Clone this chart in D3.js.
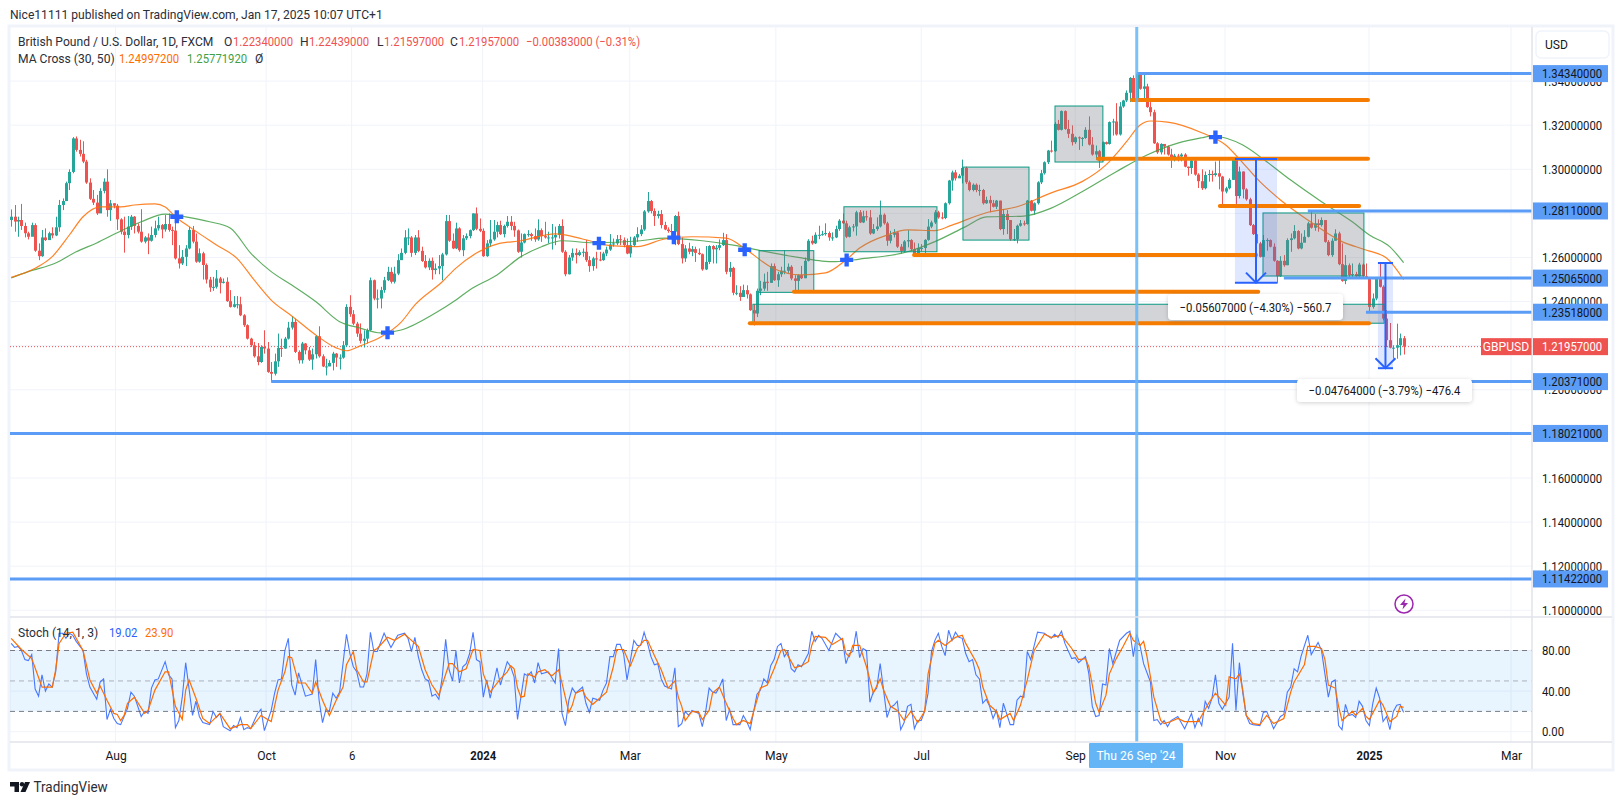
<!DOCTYPE html>
<html><head><meta charset="utf-8">
<script src="https://cdn.jsdelivr.net/npm/d3@7"></script>
<style>
html,body{margin:0;padding:0;background:#fff}
svg{display:block;font-family:Roboto,sans-serif}
</style></head><body><svg id="c" width="1622" height="805"></svg>
<script>
// ---- data: prices in pips (1/10000), bars are daily candles ----
const firstOpen = 12770;
const closes = [12785,12763,12770,12743,12710,12694,12747,12631,12606,12691,12679,12710,12700,12737,12838,12856,12937,12988,13140,13088,13070,13035,12940,12866,12849,12800,12902,12944,12815,12846,12835,12773,12717,12702,12740,12785,12743,12717,12672,12691,12676,12702,12732,12747,12727,12752,12725,12722,12596,12573,12603,12641,12725,12672,12581,12619,12566,12500,12464,12467,12505,12485,12490,12402,12376,12388,12388,12338,12293,12232,12202,12152,12126,12194,12187,12081,12073,12129,12190,12187,12232,12282,12308,12172,12134,12210,12179,12137,12161,12243,12152,12106,12106,12122,12164,12146,12146,12202,12376,12343,12300,12255,12222,12232,12270,12497,12414,12414,12452,12497,12535,12490,12527,12588,
12621,12691,12691,12621,12691,12630,12584,12555,12585,12543,12550,12561,12614,12765,12676,12641,12732,12633,12687,12697,12724,12800,12730,12721,12606,12664,12682,12717,12747,12706,12743,12762,12743,12723,12626,12668,12706,12706,12697,12682,12724,12697,12691,12691,12691,12702,12743,12626,12524,12600,12621,12611,12624,12626,12588,12561,12596,12591,12588,12618,12636,12659,12664,12683,12679,12656,12618,12656,12691,12706,12727,12809,12856,12811,12788,12797,12747,12727,12720,12717,12788,12661,12596,12641,12626,12638,12621,12615,12546,12580,12652,12637,12644,12656,12679,12535,12553,12440,12440,12421,12452,12433,12361,12346,12449,12459,12490,12485,12561,12497,12524,12540,12540,12558,12505,12494,12520,
12506,12585,12676,12664,12703,12703,12706,12711,12691,12691,12729,12767,12755,12694,12737,12741,12805,12759,12787,12782,12709,12729,12741,12794,12755,12676,12703,12714,12649,12630,12673,12679,12638,12612,12643,12643,12680,12740,12759,12805,12782,12779,12846,12949,12986,12959,12971,13006,12941,12906,12930,12906,12906,12846,12861,12846,12830,12858,12729,12797,12770,12683,12683,12744,12755,12752,12858,12812,12846,12941,12982,13032,13085,13082,13206,13179,13264,13183,13161,13123,13145,13142,13142,13179,13112,13067,13082,13039,13123,13115,13214,13217,13158,13285,13312,13347,13414,13315,13433,13365,13376,13282,13259,13118,13077,13115,13103,13067,13055,13062,13058,13067,13012,13006,13040,12976,12946,
12914,12974,12979,12974,12982,12967,12899,12914,12952,13043,12879,12990,12909,12864,12747,12706,12664,12603,12679,12679,12649,12585,12515,12585,12565,12679,12687,12720,12641,12667,12694,12755,12735,12755,12747,12770,12671,12611,12676,12709,12570,12494,12565,12520,12525,12515,12568,12515,12509,12376,12414,12509,12467,12323,12225,12191,12191,12202,12234,12196];
const highs = [12818,12838,12785,12843,12758,12717,12758,12755,12664,12725,12732,12717,12737,12785,12861,12868,12944,13000,13146,13149,13134,13127,13043,12959,12906,12884,12914,12959,13000,12861,12846,12843,12778,12785,12788,12793,12788,12755,12819,12697,12709,12740,12767,12785,12752,12793,12800,12740,12770,12656,12634,12656,12740,12743,12709,12641,12626,12573,12512,12512,12543,12512,12505,12510,12452,12425,12425,12422,12343,12297,12236,12217,12212,12202,12270,12217,12126,12164,12255,12232,12240,12308,12334,12323,12179,12217,12212,12194,12187,12248,12288,12161,12141,12134,12172,12167,12161,12221,12388,12429,12361,12308,12301,12270,12278,12509,12500,12455,12467,12512,12558,12555,12558,12615,
12641,12724,12732,12697,12702,12724,12649,12611,12596,12600,12573,12611,12621,12793,12793,12709,12758,12737,12702,12709,12727,12800,12827,12777,12732,12679,12770,12770,12762,12767,12749,12788,12788,12762,12727,12709,12709,12724,12712,12732,12773,12732,12762,12717,12752,12740,12752,12773,12633,12611,12641,12641,12633,12641,12679,12606,12603,12626,12626,12626,12649,12706,12686,12702,12702,12691,12686,12694,12697,12737,12747,12815,12897,12861,12823,12812,12815,12762,12737,12752,12793,12808,12691,12656,12667,12652,12649,12641,12618,12652,12656,12656,12656,12682,12712,12706,12580,12558,12474,12470,12477,12474,12437,12388,12459,12494,12527,12535,12573,12573,12535,12558,12633,12573,12565,12520,12524,
12562,12600,12683,12699,12714,12744,12721,12755,12718,12714,12744,12774,12800,12767,12744,12752,12812,12815,12812,12812,12815,12752,12782,12858,12800,12762,12721,12729,12718,12661,12679,12724,12683,12668,12664,12661,12683,12774,12767,12815,12812,12805,12850,12952,12994,12997,12979,13044,13012,12949,12936,12936,12930,12911,12876,12880,12861,12861,12858,12820,12815,12770,12729,12749,12770,12767,12861,12861,12850,12946,12997,13036,13088,13130,13214,13224,13267,13267,13224,13199,13149,13149,13146,13191,13240,13146,13108,13088,13126,13126,13217,13229,13300,13305,13315,13358,13418,13426,13434,13430,13430,13388,13305,13270,13123,13118,13112,13108,13093,13070,13070,13073,13073,13012,13047,13043,12982,
13000,12990,12997,12994,13035,13046,12970,12921,12959,13046,13050,13012,12990,12914,12871,12752,12709,12671,12702,12687,12682,12664,12588,12606,12611,12687,12709,12747,12724,12709,12724,12762,12812,12797,12773,12782,12752,12679,12687,12728,12717,12664,12611,12573,12573,12535,12576,12573,12573,12512,12437,12512,12576,12474,12361,12303,12202,12300,12255,12244];
const lows = [12740,12717,12694,12725,12691,12682,12702,12626,12588,12603,12675,12682,12687,12697,12717,12815,12856,12906,12982,13080,13058,13028,12934,12861,12838,12793,12815,12891,12785,12766,12823,12725,12705,12622,12687,12725,12709,12709,12667,12664,12615,12672,12691,12722,12687,12717,12717,12656,12591,12550,12566,12561,12637,12664,12576,12576,12500,12482,12444,12449,12459,12437,12482,12399,12373,12373,12369,12334,12285,12228,12194,12146,12111,12122,12164,12077,12037,12065,12104,12149,12186,12228,12273,12167,12119,12119,12161,12131,12091,12142,12146,12103,12065,12107,12088,12104,12092,12141,12194,12331,12293,12240,12210,12192,12210,12267,12406,12369,12369,12440,12493,12482,12482,12520,
12591,12615,12656,12603,12611,12624,12580,12550,12543,12500,12524,12524,12497,12609,12671,12638,12638,12626,12606,12679,12687,12720,12724,12715,12603,12603,12649,12676,12691,12702,12691,12736,12724,12694,12621,12600,12664,12694,12676,12671,12676,12671,12686,12664,12636,12656,12686,12621,12515,12523,12585,12573,12606,12603,12580,12535,12540,12550,12583,12585,12606,12630,12649,12656,12656,12646,12615,12600,12649,12671,12697,12721,12803,12800,12743,12777,12732,12724,12712,12691,12656,12656,12573,12580,12615,12606,12580,12611,12540,12543,12570,12573,12573,12633,12652,12524,12512,12429,12429,12403,12421,12414,12358,12292,12330,12429,12449,12449,12485,12494,12467,12512,12524,12530,12497,12444,12440,
12502,12506,12582,12658,12661,12683,12699,12699,12676,12676,12688,12721,12752,12688,12691,12718,12699,12756,12756,12767,12703,12706,12721,12736,12749,12653,12664,12691,12643,12618,12623,12646,12630,12608,12618,12627,12615,12676,12733,12752,12776,12773,12774,12840,12903,12949,12964,12936,12933,12900,12900,12896,12880,12840,12843,12805,12827,12820,12724,12703,12706,12676,12676,12664,12740,12744,12749,12809,12794,12840,12933,12976,13024,13076,13079,13176,13176,13179,13142,13108,13115,13088,13105,13138,13108,13062,13043,13006,13036,13112,13112,13153,13153,13153,13279,13305,13305,13309,13309,13361,13315,13279,13240,13115,13070,13067,13067,13062,13006,13036,13036,13036,13009,12971,12979,12971,12915,
12906,12909,12944,12944,12967,12909,12838,12891,12909,12952,12843,12868,12868,12858,12743,12702,12646,12600,12611,12631,12646,12581,12482,12512,12558,12565,12626,12682,12637,12637,12687,12691,12731,12721,12717,12740,12667,12606,12603,12676,12565,12490,12479,12512,12512,12505,12512,12509,12505,12349,12368,12406,12464,12315,12194,12188,12141,12141,12156,12160];

const ma30Bars = [0,7,12,17,21,26,32,36,42,45,48,52,60,66,71,76,82,89,95,98,102,108,114,118,126,130,136,142,149,159,167,175,183,191,199,209,215,222,231,238,244,248,256,262,270,275,285,294,304,313,320,326,330,333,338,348,355,360,365,371,379,389,396,402,407];
const ma30 = [12510,12551,12604,12702,12785,12830,12830,12838,12843,12829,12785,12740,12657,12596,12498,12407,12335,12249,12190,12177,12199,12239,12307,12385,12490,12552,12620,12661,12676,12707,12684,12654,12649,12684,12694,12688,12634,12557,12521,12530,12589,12643,12702,12725,12722,12747,12803,12830,12893,12944,13020,13125,13201,13219,13214,13166,13110,13029,12944,12861,12770,12672,12634,12598,12500];
const ma50Bars = [0,5,13,19,25,31,38,45,51,58,64,70,76,82,89,96,102,108,114,124,130,134,142,149,155,161,170,184,191,202,212,219,231,237,241,248,262,270,279,285,296,304,313,323,332,341,348,351,360,367,374,383,392,397,403,407];
const ma50 = [12507,12536,12575,12626,12666,12712,12762,12797,12784,12762,12734,12620,12536,12475,12400,12309,12280,12258,12271,12348,12407,12453,12521,12604,12649,12676,12667,12676,12688,12676,12654,12631,12598,12584,12581,12593,12626,12672,12740,12784,12788,12824,12898,12989,13065,13119,13143,13151,13110,13034,12951,12853,12762,12702,12648,12577];

const stochKBars = [0,1,2,3,4,5,6,7,8,9,10,11,12,13,14,15,16,17,18,19,21,22,23,25,26,27,28,29,30,31,32,34,35,36,38,39,40,41,42,43,45,46,47,48,49,50,51,53,54,55,56,58,59,60,61,62,64,65,66,67,68,69,70,72,73,74,76,77,78,79,80,81,82,83,84,86,88,89,90,91,92,93,94,95,96,98,99,100,101,102,103,104,105,106,107,109,111,113,115,116,117,118,119,120,121,122,123,124,125,126,127,128,129,130,131,132,133,134,135,136,137,138,139,140,142,143,
145,146,147,148,150,151,152,153,154,155,157,159,160,161,162,163,164,165,167,168,169,170,172,173,174,175,176,177,178,179,180,182,183,184,185,186,187,188,189,190,191,193,194,195,196,197,198,199,201,202,203,204,205,206,207,208,209,210,211,213,214,215,216,218,219,220,221,222,223,224,225,226,227,228,229,230,231,233,234,235,236,237,239,241,243,244,245,246,247,248,249,250,251,252,253,254,255,256,257,258,259,260,261,262,263,264,265,266,267,268,269,270,271,272,273,274,275,276,277,278,279,280,281,282,283,284,285,286,287,288,289,
290,292,293,294,295,296,297,298,300,302,304,305,306,307,308,310,311,312,314,315,316,317,318,319,320,321,322,324,326,327,328,329,330,331,333,334,335,336,337,338,339,341,343,345,346,347,348,349,350,351,352,353,354,356,357,358,359,360,361,362,363,365,366,367,369,371,372,373,374,375,376,377,379,380,382,383,384,385,386,387,388,389,390,391,392,393,394,395,396,397,398,399,400,401,402,403,404,405,406,407];
const stochK = [87,83,84,80,71,70,76,42,35,56,40,47,44,59,97,97,92,97,95,89,80,57,44,32,49,52,12,22,13,8,7,23,39,35,15,20,18,43,51,52,69,56,52,4,11,34,68,16,30,15,9,7,20,14,18,5,1,6,4,14,2,4,3,18,22,1,21,38,51,52,80,92,46,36,58,35,37,71,31,9,22,20,38,33,39,96,77,64,59,44,44,57,98,79,79,97,83,95,97,92,79,93,74,61,52,50,35,37,32,54,91,61,50,80,48,64,67,77,98,71,69,34,51,33,63,46,
69,64,54,12,57,55,59,48,68,57,59,48,82,18,6,31,43,38,44,28,19,33,31,41,48,74,74,86,86,77,51,90,85,85,98,87,74,66,67,52,45,42,63,5,8,20,16,21,18,5,20,43,39,38,44,52,11,22,7,7,16,10,2,37,41,52,48,65,71,84,87,74,79,62,59,66,64,77,99,89,95,92,80,97,90,67,77,79,99,73,82,80,29,39,43,67,41,14,24,26,30,2,9,25,27,3,11,11,20,38,79,90,97,84,75,100,90,98,93,92,77,69,71,56,52,28,32,25,13,21,4,
28,7,7,31,35,34,79,71,98,97,92,96,93,99,87,72,73,68,74,57,25,15,16,47,46,82,67,90,97,99,74,96,84,67,49,11,12,7,11,5,11,15,3,18,4,13,6,30,23,33,56,28,22,34,87,21,68,38,16,8,7,6,19,20,3,15,17,39,44,62,59,74,95,76,88,80,57,34,49,51,6,2,27,16,17,14,30,25,11,6,28,43,33,10,15,2,20,26,27,19.02];
const stochDBars = [0,3,6,9,12,13,14,16,18,21,23,25,26,28,30,31,32,33,34,36,39,40,42,45,46,48,50,51,52,54,56,58,61,64,67,69,70,73,76,78,80,81,82,84,86,88,89,91,93,95,97,98,100,101,103,104,106,107,110,112,115,117,119,121,123,125,128,129,131,133,135,137,138,140,143,
145,146,147,148,149,150,151,153,154,156,158,160,161,163,164,165,167,168,170,171,174,176,177,179,181,183,185,186,188,190,192,194,195,196,197,199,201,202,204,205,207,209,211,212,214,216,219,221,223,225,226,228,229,231,233,234,235,238,240,243,244,245,246,248,250,252,254,255,257,259,261,263,265,267,268,270,271,273,276,278,279,282,283,284,286,288,289,
292,293,295,297,299,302,304,307,310,312,314,315,317,318,320,321,323,325,327,328,330,331,332,334,336,337,339,341,343,346,347,350,352,353,355,356,358,359,360,361,363,365,367,369,372,374,375,378,379,381,383,384,385,387,388,389,392,393,395,396,397,400,401,403,405,406,407];
const stochD = [92,81,72,44,44,61,87,97,98,80,51,38,45,31,18,17,11,16,28,34,18,21,41,59,59,25,12,41,51,33,13,8,18,3,7,7,3,16,10,41,59,74,73,48,48,38,49,31,16,31,44,66,79,61,49,49,80,82,93,90,96,90,84,61,46,36,67,67,59,62,81,80,57,39,52,
59,65,62,43,34,35,57,54,59,61,55,61,48,19,26,38,41,34,27,30,39,64,81,81,65,82,90,90,75,61,43,50,34,25,11,20,19,12,21,38,44,28,13,7,11,8,43,46,62,80,81,69,63,65,69,85,94,93,86,92,77,74,85,85,64,38,52,41,25,21,11,20,9,20,57,87,90,85,93,95,87,69,61,44,26,20,12,
18,11,26,51,80,96,93,95,82,71,72,64,28,19,36,57,72,84,97,90,85,89,74,34,11,8,10,13,10,10,10,28,38,34,26,54,52,57,41,16,8,7,16,8,13,39,49,66,84,84,82,71,46,43,25,11,20,16,23,15,12,31,26,10,15,25,23.90];

const priceTicks = [1.34,1.32,1.30,1.28,1.26,1.24,1.22,1.20,1.18,1.16,1.14,1.12,1.10];
const stochTicks = [80,40,0];
const stochBands = [80,50,20];
const timeLabels = ["Aug","Oct","6","2024","Mar","May","Jul","Sep","Nov","2025","Mar"];
const timeBars = [30.5,74.5,99.5,137.8,180.8,223.5,266,311,354.8,396.9,438.4];
const boldTimes = ["2024","2025"];

// horizontal levels drawn by hand (blue, ray to the axis)
const blueLevels = [1.3434,1.2811,1.25065,1.23518,1.20371,1.18021,1.11422];
const blueStart = [329,379,372,396,76,-1,-1];
const blueText = ["1.34340000","1.28110000","1.25065000","1.23518000","1.20371000","1.18021000","1.11422000"];
// orange trend lines
const orangeLevels = [13314,13048,12834,12611,12445,12302];
const orangeStart = [327.6,317.7,353.3,263.9,228.8,215.9];
const orangeEnd = [396.6,396.6,394,363.9,364.5,396.9];
// gray rectangles
const rectStart = [218.6,243.4,278.2,305.1,365.9,216.8];
const rectEnd = [234.6,270.6,297.5,319.1,395.4,401.3];
const rectTop = [12631,12830,13010,13287,12802,12388];
const rectBottom = [12442,12626,12679,13033,12516,12302];
// measure tools
const measureStart = [357.7,399.5];
const measureEnd = [370,403.9];
const measureTop = [13047,12575];
const measureBottom = [12486,12098];
const measureText = ["\u22120.05607000 (\u22124.30%) \u2212560.7","\u22120.04764000 (\u22123.79%) \u2212476.4"];
// MA-cross markers
const crossBars = [48.4,110,171.8,193.7,214.4,244.2,352];
const crossPrices = [12785,12259,12665,12690,12635,12589,13146];
const crosshairBar = 329;
const lastPrice = 1.21957;

// ---- layout ----
const L=10,R=1532,FR=1612,T=27,PB=617,SB=742,FB=769;
const svg=d3.select("#c");
const TXT="#131722", GRID="#f0f3fa", BORDER="#e0e3eb";
const UP="#26a69a", DN="#ef5350", BLUE="#5b9cf6", DRAW="#2962ff";
const x=d3.scaleLinear().domain([0,407]).range([11.2,1403.6]);
const y=d3.scaleLinear().domain([1.30,1.10]).range([169.3,610.3]);
const yp=p=>y(p/1e4);
const ys=d3.scaleLinear().domain([0,100]).range([731.7,630.2]);
const opens=closes.map((c,i)=>i?closes[i-1]:firstOpen);

const defs=svg.append("defs");
defs.append("clipPath").attr("id","pp").append("rect").attr("x",L).attr("y",T).attr("width",R-L).attr("height",PB-T);
defs.append("clipPath").attr("id","sp").append("rect").attr("x",L).attr("y",PB).attr("width",R-L).attr("height",SB-PB);
const sh=defs.append("filter").attr("id","sh").attr("x","-10%").attr("y","-30%").attr("width","120%").attr("height","170%");
sh.append("feDropShadow").attr("dx",0).attr("dy",1).attr("stdDeviation",2).attr("flood-color","#000").attr("flood-opacity",.18);

// credit line
svg.append("text").attr("x",10).attr("y",19).attr("font-size",13).attr("fill","#2a2e39").text("Nice11111 published on TradingView.com, Jan 17, 2025 10:07 UTC+1");

// frame
svg.append("rect").attr("x",9).attr("y",26).attr("width",FR-9+1).attr("height",FB-26+1).attr("fill","#fff").attr("stroke","#f0f3fa").attr("stroke-width",3);

// grids
const gp=svg.append("g");
gp.selectAll("line.h").data(priceTicks).join("line").attr("class","h").attr("x1",L).attr("x2",R).attr("y1",d=>y(d)).attr("y2",d=>y(d)).attr("stroke",GRID);
gp.selectAll("line.sg").data(stochTicks).join("line").attr("class","sg").attr("x1",L).attr("x2",R).attr("y1",d=>ys(d)).attr("y2",d=>ys(d)).attr("stroke",GRID);
gp.selectAll("line.v").data(timeBars).join("line").attr("class","v").attr("x1",d=>x(d)).attr("x2",d=>x(d)).attr("y1",T).attr("y2",SB).attr("stroke",GRID);

// price pane
const pane=svg.append("g").attr("clip-path","url(#pp)");
pane.append("line").attr("x1",L).attr("x2",R).attr("y1",y(lastPrice)).attr("y2",y(lastPrice)).attr("stroke",DN).attr("stroke-dasharray","1 2");

// candles
const bars=pane.append("g").selectAll("g").data(closes).join("g");
const col=(c,i)=>c>=opens[i]?UP:DN;
bars.append("line").attr("x1",(d,i)=>Math.round(x(i))+.5).attr("x2",(d,i)=>Math.round(x(i))+.5)
  .attr("y1",(d,i)=>yp(highs[i])).attr("y2",(d,i)=>yp(lows[i])).attr("stroke",col);
bars.append("rect").attr("x",(d,i)=>Math.round(x(i))-1).attr("width",3)
  .attr("y",(d,i)=>yp(Math.max(d,opens[i])))
  .attr("height",(d,i)=>Math.max(1,Math.abs(yp(d)-yp(opens[i])))).attr("fill",col);

// moving averages
const smooth=d3.line().curve(d3.curveMonotoneX);
const jag=d3.line().curve(d3.curveLinear);
pane.append("path").attr("d",smooth(ma50.map((v,i)=>[x(ma50Bars[i]),yp(v)]))).attr("fill","none").attr("stroke","#43a047").attr("stroke-width",1.2).attr("opacity",.85);
pane.append("path").attr("d",smooth(ma30.map((v,i)=>[x(ma30Bars[i]),yp(v)]))).attr("fill","none").attr("stroke","#ff6d00").attr("stroke-width",1.2).attr("opacity",.85);

// gray rectangles
pane.append("g").selectAll("rect").data(rectStart).join("rect")
  .attr("x",(d)=>x(d)).attr("width",(d,i)=>x(rectEnd[i])-x(d))
  .attr("y",(d,i)=>yp(rectTop[i])).attr("height",(d,i)=>yp(rectBottom[i])-yp(rectTop[i]))
  .attr("fill","#787b86").attr("fill-opacity",.33).attr("stroke","#089981").attr("stroke-width",1);

// blue measure fills
pane.append("g").selectAll("rect").data(measureStart).join("rect")
  .attr("x",d=>x(d)).attr("width",(d,i)=>x(measureEnd[i])-x(d))
  .attr("y",(d,i)=>yp(measureTop[i])).attr("height",(d,i)=>yp(measureBottom[i])-yp(measureTop[i]))
  .attr("fill",DRAW).attr("fill-opacity",.15);

// orange lines
pane.append("g").selectAll("line").data(orangeLevels).join("line")
  .attr("x1",(d,i)=>x(orangeStart[i])).attr("x2",(d,i)=>x(orangeEnd[i]))
  .attr("y1",d=>yp(d)).attr("y2",d=>yp(d)).attr("stroke","#f57c00").attr("stroke-width",4).attr("stroke-linecap","round");

// blue level rays
pane.append("g").selectAll("line").data(blueLevels).join("line")
  .attr("x1",(d,i)=>blueStart[i]<0?L:x(blueStart[i])).attr("x2",R)
  .attr("y1",d=>y(d)).attr("y2",d=>y(d)).attr("stroke",BLUE).attr("stroke-width",3);

// measure arrows
measureStart.forEach((s,i)=>{
  const a=x(s),b=x(measureEnd[i]),c=(a+b)/2,t=yp(measureTop[i]),u=yp(measureBottom[i]);
  const g=pane.append("g").attr("fill","none").attr("stroke",DRAW).attr("stroke-width",2);
  g.append("line").attr("x1",a).attr("x2",b).attr("y1",t).attr("y2",t);
  g.append("line").attr("x1",a).attr("x2",b).attr("y1",u).attr("y2",u);
  g.append("line").attr("x1",c).attr("x2",c).attr("y1",t).attr("y2",u);
  g.append("path").attr("d",`M${c-10},${u-10}L${c},${u}L${c+10},${u-10}`);
});

// crosses
pane.append("g").selectAll("path").data(crossBars).join("path")
  .attr("d",d3.symbol().type(d3.symbolCross).size(95))
  .attr("transform",(d,i)=>`translate(${x(d)},${yp(crossPrices[i])})`).attr("fill",DRAW);

// measure labels
const mlabels=[[1168,294,175,26],[1297,379,175,23]];
mlabels.forEach((m,i)=>{
  svg.append("rect").attr("x",m[0]).attr("y",m[1]).attr("width",m[2]).attr("height",m[3]).attr("rx",4).attr("fill","#fff").attr("filter","url(#sh)");
  svg.append("text").attr("x",m[0]+m[2]/2).attr("y",m[1]+m[3]/2+4.5).attr("text-anchor","middle").attr("font-size",13).attr("fill",TXT).text(measureText[i]);
});

// lightning icon
const bolt=svg.append("g").attr("transform","translate(1404,604)");
bolt.append("circle").attr("r",9).attr("fill","#fff").attr("stroke","#9c27b0").attr("stroke-width",1.5);
bolt.append("path").attr("d","M1.5,-5.5L-4,1H-.5L-1.5,5.5L4,-1H.5Z").attr("fill","#9c27b0");

// stoch pane
const sp=svg.append("g").attr("clip-path","url(#sp)");
sp.append("rect").attr("x",L).attr("width",R-L).attr("y",ys(80)).attr("height",ys(20)-ys(80)).attr("fill","#2196f3").attr("fill-opacity",.1);
sp.selectAll("line.b").data(stochBands).join("line").attr("class","b").attr("x1",L).attr("x2",R)
  .attr("y1",d=>ys(d)).attr("y2",d=>ys(d)).attr("stroke","#787b86").attr("stroke-dasharray","5 4").attr("stroke-opacity",d=>d==50?.55:1);
sp.append("path").attr("d",jag(stochK.map((v,i)=>[x(stochKBars[i]),ys(v)]))).attr("fill","none").attr("stroke","#2962ff").attr("stroke-width",1.1).attr("opacity",.85);
sp.append("path").attr("d",jag(stochD.map((v,i)=>[x(stochDBars[i]),ys(v)]))).attr("fill","none").attr("stroke","#ff6d00").attr("stroke-width",1.2);

// crosshair
svg.append("line").attr("x1",x(crosshairBar)).attr("x2",x(crosshairBar)).attr("y1",T).attr("y2",SB).attr("stroke","#64b5f6").attr("stroke-opacity",.85).attr("stroke-width",3);

// borders
[[L,PB,R,PB],[L,SB,FR,SB],[R,T,R,FB],[R,PB,FR,PB]].forEach(l=>svg.append("line").attr("x1",l[0]).attr("y1",l[1]).attr("x2",l[2]).attr("y2",l[3]).attr("stroke",BORDER).attr("stroke-width",1.5));

// axes
const AF=13;
const pa=svg.append("g").attr("transform",`translate(${R},0)`).call(d3.axisRight(y).tickValues(priceTicks).tickSize(0).tickPadding(10).tickFormat(d=>d.toFixed(8)));
const sa=svg.append("g").attr("transform",`translate(${R},0)`).call(d3.axisRight(ys).tickValues(stochTicks).tickSize(0).tickPadding(10).tickFormat(d=>d.toFixed(2)));
const ta=svg.append("g").attr("transform",`translate(0,${SB})`).call(d3.axisBottom(d3.scaleOrdinal().domain(timeLabels.map((t,i)=>i)).range(timeBars.map(x))).tickValues(timeLabels.map((t,i)=>i)).tickSize(0).tickPadding(9).tickFormat(i=>timeLabels[i]));
[pa,sa,ta].forEach(a=>{a.select(".domain").remove();a.selectAll("text").attr("font-family","Roboto,sans-serif").attr("font-size",AF).attr("fill",TXT);});
ta.selectAll("text").attr("font-weight",i=>boldTimes.includes(timeLabels[i])?700:400);

// level labels
const lab=svg.append("g");
blueLevels.forEach((v,i)=>{
  lab.append("rect").attr("x",R+1).attr("y",y(v)-8.5).attr("width",75).attr("height",17).attr("fill",BLUE);
  lab.append("text").attr("x",R+10).attr("y",y(v)+4.5).attr("font-size",AF).attr("fill",TXT).text(blueText[i]);
});
lab.append("rect").attr("x",R+1).attr("y",y(lastPrice)-8.5).attr("width",75).attr("height",17).attr("fill",DN);
lab.append("text").attr("x",R+10).attr("y",y(lastPrice)+4.5).attr("font-size",AF).attr("fill","#fff").text(lastPrice.toFixed(8));
lab.append("rect").attr("x",R-51).attr("y",y(lastPrice)-8.5).attr("width",50.5).attr("height",17).attr("fill",DN);
lab.append("text").attr("x",R-26).attr("y",y(lastPrice)+4.5).attr("text-anchor","middle").attr("font-size",AF).attr("fill","#fff").text("GBPUSD");

// crosshair label
svg.append("rect").attr("x",1089).attr("y",SB+1).attr("width",94).attr("height",25).attr("rx",1).attr("fill","#64b5f6");
svg.append("text").attr("x",1136).attr("y",SB+18).attr("text-anchor","middle").attr("font-size",AF).attr("fill","#fff").text("Thu 26 Sep '24");

// USD
svg.append("rect").attr("x",1536).attr("y",31).attr("width",73).attr("height",27).attr("rx",5).attr("fill","#fff").attr("stroke","#f0f3fa").attr("stroke-width",1.5);
svg.append("text").attr("x",1545).attr("y",48.5).attr("font-size",AF).attr("fill",TXT).text("USD");

// legends: text runs with the column where each one starts
function legend(ypos,parts){
  parts.forEach(p=>svg.append("text").attr("x",p[2]).attr("y",ypos).attr("font-size",13).attr("fill",p[1]).text(p[0]));
}
const INK="#2a2e39";
legend(46,[["British Pound / U.S. Dollar, 1D, FXCM",INK,18],["O",INK,224],["1.22340000",DN,233],["H",INK,300],["1.22439000",DN,309],["L",INK,377],["1.21597000",DN,384],["C",INK,450],["1.21957000",DN,459],["\u22120.00383000 (\u22120.31%)",DN,526]]);
legend(63,[["MA Cross (30, 50)",INK,18],["1.24997200","#ff6d00",119],["1.25771920","#43a047",187],["\u00d8",INK,255]]);
legend(637,[["Stoch (14, 1, 3)",INK,18],["19.02",DRAW,109],["23.90","#ff6d00",145]]);

// logo
const logo=svg.append("g").attr("fill","#131722");
logo.append("path").attr("d","M10,782H19V792H14.5V786.5H10Z");
logo.append("circle").attr("cx",22).attr("cy",784.2).attr("r",2.2);
logo.append("path").attr("d","M25,782H30L25.5,792H20.5Z");
svg.append("text").attr("x",33.5).attr("y",791.5).attr("font-size",14.5).attr("fill","#2a2e39").text("TradingView");

// the source face is narrower than Roboto: condense every run to its width
svg.selectAll("text").each(function(){
  const k=/^[\d.\u2212 ()%,]+$/.test(this.textContent)?.87:.93;
  this.setAttribute("textLength",this.getComputedTextLength()*k);
  this.setAttribute("lengthAdjust","spacingAndGlyphs");
});
</script></body></html>
